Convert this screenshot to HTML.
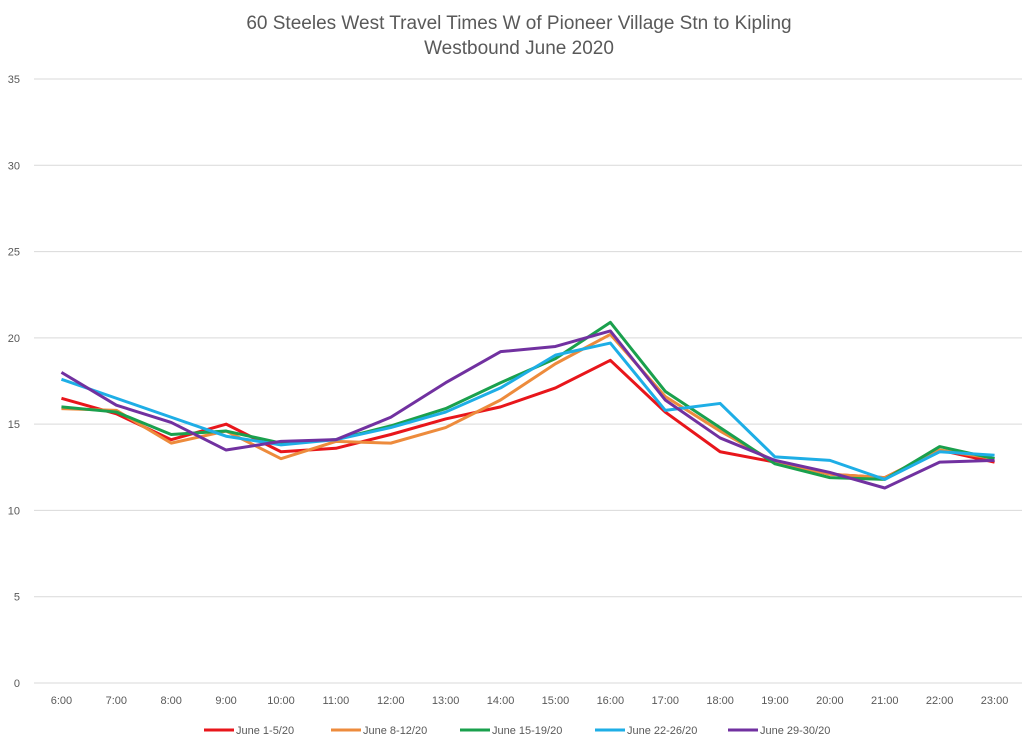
<!DOCTYPE html>
<html><head><meta charset="utf-8"><style>
body{margin:0;background:#fff;font-family:"Liberation Sans",sans-serif}
svg text{font-family:"Liberation Sans",sans-serif}
</style></head><body>
<svg id="c" width="1024" height="739"></svg>
<script>
const categories=["6:00","7:00","8:00","9:00","10:00","11:00","12:00","13:00","14:00","15:00","16:00","17:00","18:00","19:00","20:00","21:00","22:00","23:00"];
const yTicks=[0,5,10,15,20,25,30,35];
const seriesNames=["June 1-5/20","June 8-12/20","June 15-19/20","June 22-26/20","June 29-30/20"];
const seriesColors=["#e8161b","#ed8b3c","#1aa04d","#1eaee6","#7131a0"];
const june1_5=[16.5,15.6,14.1,15.0,13.4,13.6,14.4,15.3,16.0,17.1,18.7,15.7,13.4,12.8,12.1,11.9,13.5,12.8];
const june8_12=[15.9,15.8,13.9,14.6,13.0,14.0,13.9,14.8,16.4,18.5,20.2,16.6,14.6,12.8,12.1,11.9,13.5,13.0];
const june15_19=[16.0,15.7,14.4,14.6,13.9,14.1,14.9,15.9,17.4,18.8,20.9,16.9,14.8,12.7,11.9,11.8,13.7,13.0];
const june22_26=[17.6,16.5,15.4,14.3,13.8,14.1,14.8,15.7,17.1,19.0,19.7,15.8,16.2,13.1,12.9,11.8,13.4,13.2];
const june29_30=[18.0,16.1,15.1,13.5,14.0,14.1,15.4,17.4,19.2,19.5,20.4,16.4,14.2,12.9,12.2,11.3,12.8,12.9];
const allSeries=[june1_5,june8_12,june15_19,june22_26,june29_30];

const NS="http://www.w3.org/2000/svg",svg=document.getElementById('c');
const x0=34,x1=1022,y0=683,y1=79;
const step=(x1-x0)/categories.length;
const xs=i=>x0+step*(i+0.5);
const ys=v=>y0-(v/35)*(y0-y1);
function mk(t,a,p){const e=document.createElementNS(NS,t);for(const k in a)e.setAttribute(k,a[k]);(p||svg).appendChild(e);return e;}

let t=mk('text',{x:519,y:29,'text-anchor':'middle','font-size':19,fill:'#595959'});


t.textContent='60 Steeles West Travel Times W of Pioneer Village Stn to Kipling';
t=mk('text',{x:519,y:54,'text-anchor':'middle','font-size':19,fill:'#595959'});


t.textContent='Westbound  June 2020';

yTicks.forEach(v=>{
 const l=mk('line',{x1:x0,x2:x1,y1:ys(v),y2:ys(v),stroke:'#d9d9d9','stroke-width':1});
 
 
 const tx=mk('text',{x:20,y:ys(v)+4,'text-anchor':'end','font-size':11,fill:'#595959'});
 
 
 tx.textContent=v;
});
categories.forEach((c,i)=>{
 const tx=mk('text',{x:xs(i),y:704,'text-anchor':'middle','font-size':11,fill:'#595959'});
 
 
 tx.textContent=c;
});
allSeries.forEach((s,k)=>{
 const p=mk('polyline',{points:s.map((v,i)=>xs(i)+','+ys(v)).join(' '),fill:'none',stroke:seriesColors[k],'stroke-width':3,'stroke-linejoin':'round'});
 
 
});
const lx=[204,331,460,595,728];
seriesNames.forEach((n,k)=>{
 const g=mk('g',{});
 
 
 mk('line',{x1:lx[k],x2:lx[k]+30,y1:730,y2:730,stroke:seriesColors[k],'stroke-width':3},g);
 const tx=mk('text',{x:lx[k]+32,y:734,'font-size':11,fill:'#595959'},g);
 tx.textContent=n;
});
</script>
</body></html>
